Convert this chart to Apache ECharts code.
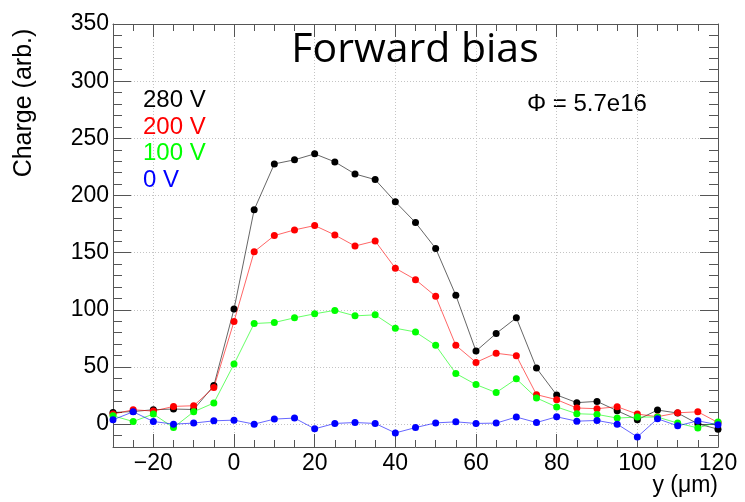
<!DOCTYPE html>
<html>
<head>
<meta charset="utf-8">
<script src="https://cdn.jsdelivr.net/npm/echarts@6/dist/echarts.min.js"></script>
<style>
html,body{margin:0;padding:0;background:#fff;}
#chart{width:745px;height:502px;}
</style>
</head>
<body>
<div id="chart"></div>
<script>
// positions y (um)
var yPos = [-30,-25,-20,-15,-10,-5,0,5,10,15,20,25,30,35,40,45,50,55,60,65,70,75,80,85,90,95,100,105,110,115,120];
var charge280 = [10.2,11,12.6,13.2,12.8,33.7,100.6,187.5,227.6,231.2,236.4,229.4,218.8,213.9,194.5,176.3,153.7,112.7,63.9,79.3,93,49,25.5,18.8,19.9,11.7,3.8,12.3,9.7,0.3,-4.4];
var charge200 = [8.8,12.6,11.4,15.5,16.1,32,89.8,150.8,164.9,169.9,173.7,165.5,155.8,160.2,136.4,126.4,111.8,68.9,54,62,59.8,25.8,21.4,14.1,13.5,15.2,8.8,6.5,9.9,10.8,1.4];
var charge100 = [7.3,2.3,8.8,-3,10.8,18.5,52.5,88,88.9,93,96.5,99.5,94.7,95.6,83.9,80.6,68.9,44.3,34.6,27.6,39.6,22.9,15,9.1,8.5,5.3,6.2,6.2,0.9,-3.3,1.8];
var charge0 = [3.8,10.8,2.3,0,0.9,2.9,3.5,0,4.4,5.3,-4.1,0.6,1.4,0.6,-7.7,-3,1.1,2,0.6,0.9,6.2,1.4,6.4,2.6,3.2,0,-11.2,4.7,-1.5,2.9,-0.6];
var seriesNames = ['280 V','200 V','100 V','0 V'];
var seriesColors = ['#000000','#ff0000','#00ff00','#0000ff'];
var xTickLabels = [-20,0,20,40,60,80,100,120];
var yTickLabels = [0,50,100,150,200,250,300,350];

var FONT = '"Liberation Sans", Arial, Helvetica, sans-serif';
var AX = '#555';

function pairs(ys){ return yPos.map(function(x,i){ return [x, ys[i]]; }); }
function minus(v){ return String(v).replace('-', '\u2212'); }

function xAxisDef(pos, major, showLabel, showSplit){
  var a = {
    type:'value', position:pos, min:-30, max:120, interval:5,
    axisLine:{show:major, onZero:false, lineStyle:{color:AX, width:1}},
    axisTick:{show:true, inside:true, length: major?13:7, lineStyle:{color:AX}},
    axisLabel:{show:showLabel, margin:5, fontSize:23, fontFamily:FONT, color:'#000', formatter:minus},
    splitLine:{show:showSplit, lineStyle:{color:'#c4c4c4', type:[1,2], width:1}}
  };
  if (major){
    a.axisTick.customValues = xTickLabels;
    a.axisLabel.customValues = xTickLabels;
  }
  return a;
}
function yAxisDef(pos, major, showLabel, showSplit){
  var a = {
    type:'value', position:pos, min:-20, max:350, interval:10,
    axisLine:{show:major, onZero:false, lineStyle:{color:AX, width:1}},
    axisTick:{show:true, inside:true, length: major?18:9, lineStyle:{color:AX}},
    axisLabel:{show:showLabel, margin:4, fontSize:23, fontFamily:FONT, color:'#000', formatter:minus},
    splitLine:{show:showSplit, lineStyle:{color:'#c4c4c4', type:[1,2], width:1}}
  };
  if (major){
    a.axisTick.customValues = yTickLabels;
    a.axisLabel.customValues = yTickLabels;
  }
  return a;
}

var dataSets = [charge280, charge200, charge100, charge0];
var series = dataSets.map(function(d, i){
  return {
    name: seriesNames[i], type:'line', data: pairs(d),
    xAxisIndex:0, yAxisIndex:0,
    symbol:'circle', symbolSize:7, z: 3+i,
    itemStyle:{color: seriesColors[i]},
    lineStyle:{color: seriesColors[i], width:1, opacity:0.6},
    animation:false
  };
});

var chart = echarts.init(document.getElementById('chart'), null, {renderer:'canvas'});
chart.setOption({
  animation:false,
  backgroundColor:'#ffffff',
  title:{
    text:'Forward bias', left:410, top:25, textAlign:'center',
    textStyle:{fontFamily:'"Open Sans", "Noto Sans", sans-serif', fontSize:41, fontWeight:'normal', color:'#000'}
  },
  legend:{
    orient:'vertical', left:133, top:82, icon:'none', itemWidth:0, itemHeight:0, itemGap:0,
    selectedMode:false,
    textStyle:{fontSize:24, fontFamily:FONT, lineHeight:26.6},
    data: seriesNames.map(function(n,i){ return {name:n, textStyle:{color: seriesColors[i]}}; })
  },
  grid:{left:113, right:27, top:24, bottom:55, containLabel:false},
  xAxis:[ xAxisDef('bottom', true, true, true), xAxisDef('bottom', false, false, false),
          xAxisDef('top', true, false, false), xAxisDef('top', false, false, false) ],
  yAxis:[ yAxisDef('left', true, true, true), yAxisDef('left', false, false, false),
          yAxisDef('right', true, false, false), yAxisDef('right', false, false, false) ],
  graphic:[
    {type:'text', x:24, y:103, rotation:Math.PI/2,
     style:{text:'Charge (arb.)', font:'25px '+FONT, fill:'#000', align:'center', verticalAlign:'middle'}},
    {type:'text', x:718, y:486,
     style:{text:'y (\u03bcm)', font:'23px '+FONT, fill:'#000', align:'right', verticalAlign:'middle'}},
    {type:'text', x:527, y:104,
     style:{text:'\u03a6 = 5.7e16', font:'24px '+FONT, fill:'#000', align:'left', verticalAlign:'middle'}}
  ],
  series: series
});
</script>
</body>
</html>
